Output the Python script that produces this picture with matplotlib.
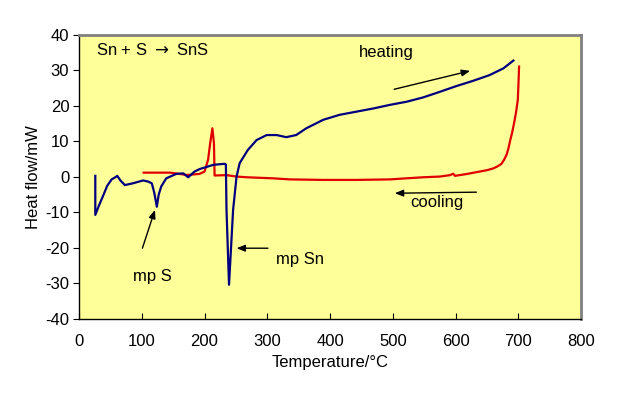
import matplotlib
matplotlib.use('Agg')
import matplotlib.pyplot as plt

plt.rcParams['font.family'] = ['Liberation Sans', 'DejaVu Sans']
plt.rcParams['axes.unicode_minus'] = False

# heating run (blue)
heat_t = [26, 26, 32, 38, 45, 52, 57, 61, 66, 73, 86, 102, 110, 116, 120, 124, 127, 131, 139, 155, 166, 174,
          184, 192, 214, 232, 234, 235, 239, 245.5, 251, 256, 269, 283, 299, 315, 330,
          346, 362, 389, 415, 442, 469, 495, 522, 548, 575, 601, 628, 654, 676, 692]
heat_q = [0.3, -10.7, -8.0, -5.5, -2.5, -0.7, -0.2, 0.3, -1.0, -2.3, -1.8, -1.0, -1.3, -1.8, -4.5, -8.4, -5.0, -2.7, -0.4, 0.85, 1.0, -0.1,
          1.5, 2.2, 3.4, 3.7, 3.5, -9.3, -30.4, -9.3, 0.1, 3.9, 7.6, 10.4, 11.8, 11.8, 11.2,
          11.8, 13.7, 16.1, 17.5, 18.4, 19.3, 20.3, 21.2, 22.4, 24.0, 25.6, 27.1, 28.7, 30.6, 32.8]

# cooling run (red)
cool_t = [701, 700, 699, 696, 693, 690, 687, 684, 681, 677, 673, 667, 660, 650, 638, 617, 599, 596, 591, 575, 548, 495, 442,
          389, 336, 309, 267, 251, 235, 216, 215, 212.5, 209, 205.6, 200, 192, 176, 171,
          160, 145, 103]
cool_q = [31.1, 26.0, 21.7, 18.0, 15.1, 12.5, 10.4, 8.0, 6.2, 4.8, 3.7, 3.0, 2.4, 1.9, 1.5, 0.8, 0.3, 0.9, 0.5, 0.1, -0.1, -0.7, -0.85,
          -0.85, -0.7, -0.4, -0.1, 0.1, 0.5, 0.4, 9.5, 13.7, 9.5, 4.8, 1.5, 0.85, 0.6, 0.55,
          0.85, 1.2, 1.2]

x_ticks = [0, 100, 200, 300, 400, 500, 600, 700, 800]
y_ticks = [-40, -30, -20, -10, 0, 10, 20, 30, 40]

fig = plt.figure(figsize=(6.17, 3.98), dpi=100)
ax = fig.add_axes([0.128, 0.199, 0.814, 0.713])
ax.set_facecolor('#FFFF99')

ax.plot(cool_t, cool_q, color='#E00000', lw=1.6)
ax.plot(heat_t, heat_q, color='#000080', lw=1.6)

ax.set_xlim(0, 800)
ax.set_ylim(-40, 40)
ax.set_xticks(x_ticks)
ax.set_yticks(y_ticks)
ax.tick_params(axis='x', direction='in', length=4, labelsize=12, pad=11)
ax.tick_params(axis='y', direction='out', length=4, labelsize=12, pad=3)

for s in ['top', 'right']:
    ax.spines[s].set_color('#808080')
    ax.spines[s].set_linewidth(2)
for s in ['left', 'bottom']:
    ax.spines[s].set_color('black')
    ax.spines[s].set_linewidth(1)

ax.set_xlabel('Temperature/\u00b0C', fontsize=12, labelpad=4)
ax.set_ylabel('Heat flow/mW', fontsize=12, labelpad=3)

ax.text(27, 35.8, 'Sn + S $\\rightarrow$ SnS', fontsize=12, va='center', ha='left')
ax.text(489, 35.2, 'heating', fontsize=12, ha='center', va='center')
ax.text(570, -7.3, 'cooling', fontsize=12, ha='center', va='center')
ax.text(117, -28.2, 'mp S', fontsize=12, ha='center', va='center')
ax.text(352, -23.4, 'mp Sn', fontsize=12, ha='center', va='center')

arrow = dict(arrowstyle='-|>,head_length=0.5,head_width=0.2', color='black', lw=1, shrinkA=0, shrinkB=0)
ax.annotate('', xy=(623, 29.9), xytext=(502, 24.7), arrowprops=arrow)
ax.annotate('', xy=(503, -4.6), xytext=(633, -4.3), arrowprops=arrow)
ax.annotate('', xy=(121, -9.3), xytext=(101, -20.1), arrowprops=arrow)
ax.annotate('', xy=(251, -20.1), xytext=(301, -20.1), arrowprops=arrow)

fig.savefig('out.png', dpi=100)
